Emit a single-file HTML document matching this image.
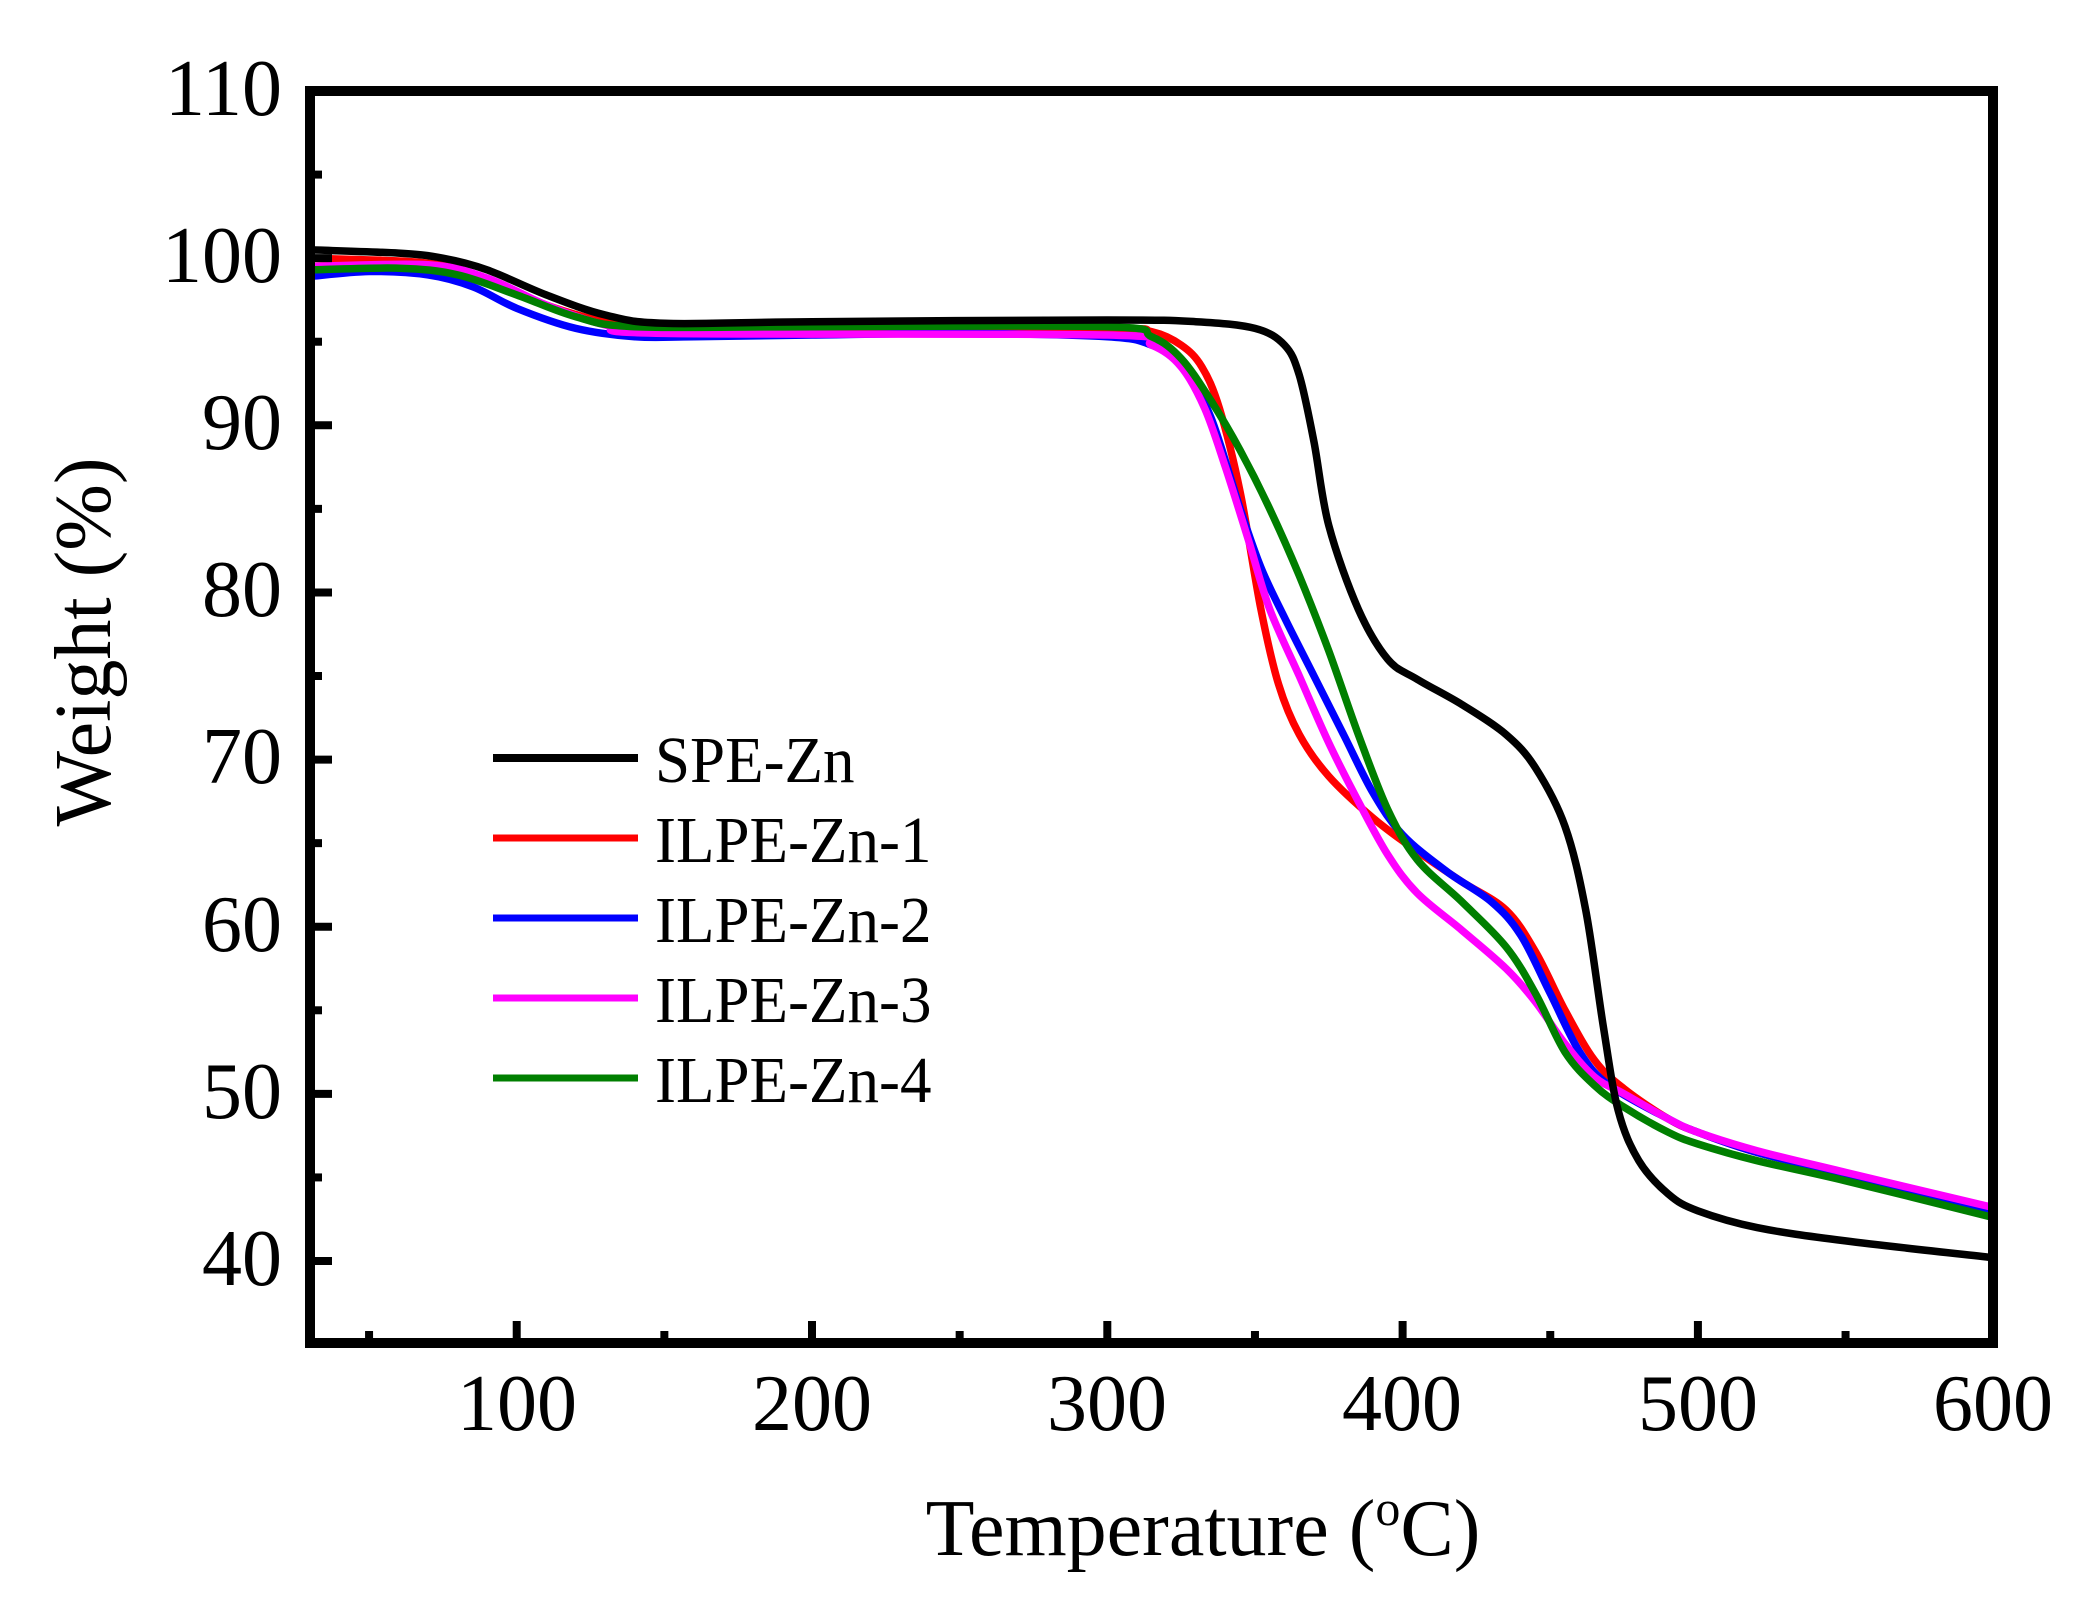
<!DOCTYPE html>
<html><head><meta charset="utf-8"><style>
html,body{margin:0;padding:0;background:#fff;}
svg{display:block;}
text{font-family:"Liberation Serif",serif;fill:#000;}
</style></head><body>
<svg id="s" width="2093" height="1597" viewBox="0 0 2093 1597" xmlns="http://www.w3.org/2000/svg">
<g id="curves" fill="none" stroke-width="7.5" stroke-linejoin="round" stroke-linecap="round"></g>
<g id="ticks" stroke="#000" stroke-width="8"></g>
<rect x="310" y="91" width="1683" height="1252" fill="none" stroke="#000" stroke-width="10"/>
<g font-size="80" text-anchor="end">
<text x="282" y="115">110</text>
<text x="282" y="282">100</text>
<text x="282" y="449">90</text>
<text x="282" y="616">80</text>
<text x="282" y="783">70</text>
<text x="282" y="951">60</text>
<text x="282" y="1118">50</text>
<text x="282" y="1285">40</text>
</g>
<g font-size="80" text-anchor="middle">
<text x="517" y="1430">100</text>
<text x="812" y="1430">200</text>
<text x="1107" y="1430">300</text>
<text x="1402" y="1430">400</text>
<text x="1698" y="1430">500</text>
<text x="1993" y="1430">600</text>
</g>
<text x="1203" y="1555" font-size="80" text-anchor="middle">Temperature (<tspan font-size="50" dy="-30">o</tspan><tspan dy="30">C)</tspan></text>
<text transform="translate(110,642) rotate(-90)" font-size="80" text-anchor="middle">Weight (%)</text>
<g stroke-width="7">
<line x1="493" y1="758" x2="638" y2="758" stroke="#000" stroke-width="8"/>
<line x1="493" y1="838" x2="638" y2="838" stroke="#ff0000"/>
<line x1="493" y1="918" x2="638" y2="918" stroke="#0000ff"/>
<line x1="493" y1="998" x2="638" y2="998" stroke="#ff00ff"/>
<line x1="493" y1="1078" x2="638" y2="1078" stroke="#007f00"/>
</g>
<g font-size="66" transform="translate(655,0) scale(0.955,1) translate(-655,0)">
<text x="655" y="782">SPE-Zn</text>
<text x="655" y="862">ILPE-Zn-1</text>
<text x="655" y="942">ILPE-Zn-2</text>
<text x="655" y="1022">ILPE-Zn-3</text>
<text x="655" y="1102">ILPE-Zn-4</text>
</g>
</svg>
<script>
const X=t=>310+(t-30)*2.953, Y=w=>1261-(w-40)*16.714;
const data=[
["#ff0000",[[30,100],[70,99.7],[90,98.7],[110,97.2],[130,96.2],[150,95.8],[200,95.8],[300,95.8],[315,95.6],[325,94.8],[332,93.5],[338,91],[345,86],[352,79],[358,74.5],[365,71.5],[375,69],[390,66.5],[405,64.5],[420,62.7],[435,61],[445,58.5],[455,55],[465,52],[475,50.3],[490,48.5],[500,47.7],[520,46.5],[550,45.2],[600,43]]],
["#0000ff",[[30,98.9],[50,99.2],[70,99],[85,98.3],[100,97],[120,95.8],[140,95.3],[160,95.3],[200,95.4],[250,95.5],[300,95.3],[315,94.8],[325,93.7],[335,90.5],[345,85],[352,81.5],[360,78.5],[370,75],[380,71.5],[390,68],[400,65.5],[415,63.3],[430,61.5],[440,59.5],[450,56],[460,52.5],[470,50.5],[490,48.5],[500,47.7],[520,46.5],[550,45.2],[600,43]]],
["#ff00ff",[[30,99.5],[70,99.6],[90,98.8],[110,97.2],[130,96],[150,95.5],[300,95.4],[315,94.8],[325,93.5],[333,91],[340,87.5],[348,83],[355,79],[365,75],[375,71],[385,67.5],[395,64.3],[405,62],[420,59.8],[435,57.5],[445,55.5],[455,53],[465,51],[475,50],[490,48.5],[500,47.7],[520,46.6],[550,45.3],[600,43.2]]],
["#007f00",[[30,99.3],[60,99.4],[80,99],[100,97.8],[120,96.5],[140,95.9],[200,95.9],[300,95.9],[315,95.3],[325,94],[335,91.5],[345,88.5],[355,85],[365,81],[375,76.5],[385,71.5],[395,67],[405,64],[420,61.5],[435,58.8],[445,56],[455,52.5],[465,50.5],[475,49.2],[490,47.7],[500,47],[520,46],[550,44.8],[600,42.6]]],
["#000000",[[30,100.5],[60,100.3],[75,100],[90,99.3],[110,97.8],[130,96.6],[150,96.1],[200,96.2],[300,96.3],[330,96.2],[350,95.8],[360,94.8],[365,93],[370,89],[375,84],[385,79],[395,76],[405,74.8],[420,73.3],[435,71.5],[445,69.5],[455,66],[462,61],[468,54],[473,49],[480,46],[490,44],[500,43],[520,42],[550,41.2],[600,40.2]]]
];
const NS="http://www.w3.org/2000/svg";
const g=document.getElementById("curves");
data.forEach(([c,pts])=>{
 const p=pts.map(([t,w])=>[X(t),Y(w)]);
 let d="M"+p[0][0].toFixed(1)+","+p[0][1].toFixed(1);
 for(let i=0;i<p.length-1;i++){
  const p0=p[Math.max(0,i-1)],p1=p[i],p2=p[i+1],p3=p[Math.min(p.length-1,i+2)];
  const c1=[p1[0]+(p2[0]-p0[0])/6,p1[1]+(p2[1]-p0[1])/6];
  const c2=[p2[0]-(p3[0]-p1[0])/6,p2[1]-(p3[1]-p1[1])/6];
  d+=" C"+c1.map(v=>v.toFixed(1))+" "+c2.map(v=>v.toFixed(1))+" "+p2.map(v=>v.toFixed(1));
 }
 const el=document.createElementNS(NS,"path");el.setAttribute("d",d);el.setAttribute("stroke",c);g.appendChild(el);
});
const tk=document.getElementById("ticks");
function ln(a,b,c,d){const e=document.createElementNS(NS,"line");e.setAttribute("x1",a);e.setAttribute("y1",b);e.setAttribute("x2",c);e.setAttribute("y2",d);tk.appendChild(e);}
for(let w=40;w<=110;w+=5){const y=Y(w);const L=(w%10===0)?22:12;ln(310,y,310+L,y);}
for(let t=50;t<=600;t+=50){const x=X(t);const L=(t%100===0)?22:12;ln(x,1343,x,1343-L);}
</script>
</body></html>
